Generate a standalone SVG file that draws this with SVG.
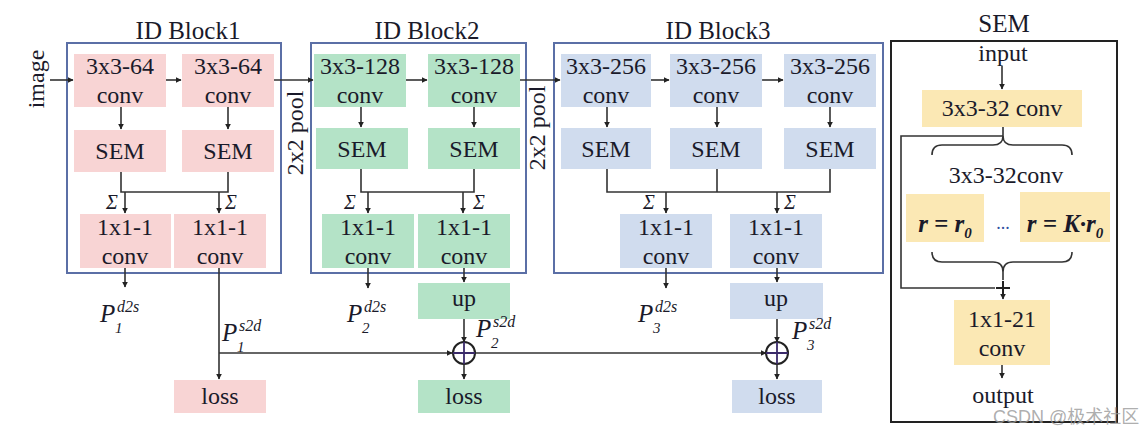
<svg xmlns="http://www.w3.org/2000/svg" width="1144" height="436" viewBox="0 0 1144 436" font-family="'Liberation Serif','Times New Roman',serif">
<defs>
<marker id="ah" viewBox="0 0 10 10" refX="9" refY="5" markerWidth="6" markerHeight="6" markerUnits="userSpaceOnUse" orient="auto"><path d="M0,0 L10,5 L0,10 z" fill="#222"/></marker>
<style>
text{font-family:"Liberation Serif","Times New Roman",serif;fill:#1a1a2a;}
.t{font-size:24px;text-anchor:middle;}
.h{font-size:25px;text-anchor:middle;}
.pk{fill:#f8d4d4;}
.gr{fill:#b4e3c7;}
.bl{fill:#d0dcee;}
.ye{fill:#fbe8b4;}
.blk{fill:none;stroke:#5b6fa6;stroke-width:2;}
.ln{fill:none;stroke:#333;stroke-width:1.6;}
.ar{fill:none;stroke:#333;stroke-width:1.6;marker-end:url(#ah);}
.P{font-size:25px;font-style:italic;}
.sup{font-size:16px;font-style:italic;}
.sub{font-size:15px;font-style:italic;}
</style>
</defs>
<rect width="1144" height="436" fill="#fff"/>

<!-- titles -->
<text class="h" x="188" y="39">ID Block1</text>
<text class="h" x="427" y="39">ID Block2</text>
<text class="h" x="718" y="39">ID Block3</text>
<text class="h" x="1004" y="32">SEM</text>
<text class="t" transform="translate(44,79) rotate(-90)">image</text>
<text class="t" transform="translate(303,133) rotate(-90)">2x2 pool</text>
<text class="t" transform="translate(545,128) rotate(-90)">2x2 pool</text>

<!-- block frames -->
<rect class="blk" x="67" y="43" width="214" height="230"/>
<rect class="blk" x="311" y="43" width="215" height="230"/>
<rect class="blk" x="554" y="43" width="329" height="230"/>
<rect x="891" y="41" width="226" height="381" fill="none" stroke="#222" stroke-width="2"/>

<!-- Block1 nodes -->
<g id="b1-conv1"><rect class="pk" x="74" y="54" width="92" height="53"/><text class="t" x="120" y="74">3x3-64</text><text class="t" x="120" y="103">conv</text></g>
<g id="b1-conv2"><rect class="pk" x="182" y="54" width="92" height="53"/><text class="t" x="228" y="74">3x3-64</text><text class="t" x="228" y="103">conv</text></g>
<g id="b1-sem1"><rect class="pk" x="74" y="130" width="92" height="42"/><text class="t" x="120" y="159">SEM</text></g>
<g id="b1-sem2"><rect class="pk" x="182" y="130" width="92" height="42"/><text class="t" x="228" y="159">SEM</text></g>
<g id="b1-out1"><rect class="pk" x="80" y="214" width="91" height="54"/><text class="t" x="125" y="235">1x1-1</text><text class="t" x="125" y="264">conv</text></g>
<g id="b1-out2"><rect class="pk" x="174" y="214" width="92" height="54"/><text class="t" x="220" y="235">1x1-1</text><text class="t" x="220" y="264">conv</text></g>
<g id="b1-loss"><rect class="pk" x="174" y="380" width="92" height="33"/><text class="t" x="220" y="404">loss</text></g>

<!-- Block2 nodes -->
<g id="b2-conv1"><rect class="gr" x="314" y="54" width="92" height="53"/><text class="t" x="360" y="74">3x3-128</text><text class="t" x="360" y="103">conv</text></g>
<g id="b2-conv2"><rect class="gr" x="428" y="54" width="92" height="53"/><text class="t" x="474" y="74">3x3-128</text><text class="t" x="474" y="103">conv</text></g>
<g id="b2-sem1"><rect class="gr" x="316" y="128" width="92" height="41"/><text class="t" x="362" y="157">SEM</text></g>
<g id="b2-sem2"><rect class="gr" x="428" y="128" width="92" height="41"/><text class="t" x="474" y="157">SEM</text></g>
<g id="b2-out1"><rect class="gr" x="322" y="214" width="92" height="54"/><text class="t" x="368" y="235">1x1-1</text><text class="t" x="368" y="264">conv</text></g>
<g id="b2-out2"><rect class="gr" x="418" y="214" width="92" height="54"/><text class="t" x="464" y="235">1x1-1</text><text class="t" x="464" y="264">conv</text></g>
<g id="b2-up"><rect class="gr" x="418" y="283" width="92" height="36"/><text class="t" x="464" y="306">up</text></g>
<g id="b2-loss"><rect class="gr" x="418" y="380" width="92" height="33"/><text class="t" x="464" y="404">loss</text></g>

<!-- Block3 nodes -->
<g id="b3-conv1"><rect class="bl" x="561" y="54" width="90" height="53"/><text class="t" x="606" y="74">3x3-256</text><text class="t" x="606" y="103">conv</text></g>
<g id="b3-conv2"><rect class="bl" x="670" y="54" width="92" height="53"/><text class="t" x="716" y="74">3x3-256</text><text class="t" x="716" y="103">conv</text></g>
<g id="b3-conv3"><rect class="bl" x="784" y="54" width="92" height="53"/><text class="t" x="830" y="74">3x3-256</text><text class="t" x="830" y="103">conv</text></g>
<g id="b3-sem1"><rect class="bl" x="561" y="128" width="90" height="41"/><text class="t" x="606" y="157">SEM</text></g>
<g id="b3-sem2"><rect class="bl" x="670" y="128" width="92" height="41"/><text class="t" x="716" y="157">SEM</text></g>
<g id="b3-sem3"><rect class="bl" x="784" y="128" width="92" height="41"/><text class="t" x="830" y="157">SEM</text></g>
<g id="b3-out1"><rect class="bl" x="620" y="214" width="92" height="54"/><text class="t" x="666" y="235">1x1-1</text><text class="t" x="666" y="264">conv</text></g>
<g id="b3-out2"><rect class="bl" x="730" y="214" width="92" height="54"/><text class="t" x="776" y="235">1x1-1</text><text class="t" x="776" y="264">conv</text></g>
<g id="b3-up"><rect class="bl" x="730" y="283" width="93" height="36"/><text class="t" x="776" y="306">up</text></g>
<g id="b3-loss"><rect class="bl" x="732" y="380" width="90" height="33"/><text class="t" x="777" y="404">loss</text></g>

<!-- SEM panel nodes -->
<g id="sem-input"><text class="t" x="1003" y="61">input</text></g>
<g id="sem-conv"><rect class="ye" x="922" y="90" width="160" height="37"/><text class="t" x="1002" y="116">3x3-32 conv</text></g>
<g id="sem-label"><text class="t" x="1006" y="183">3x3-32conv</text></g>
<g id="sem-r0"><rect class="ye" x="906" y="194" width="78" height="48"/><text x="945" y="232" style="font-size:25px;font-style:italic;font-weight:bold;text-anchor:middle">r = r<tspan style="font-size:15px" dy="6">0</tspan></text></g>
<text x="1003" y="229" style="font-size:18px;fill:#3050a0;text-anchor:middle">...</text>
<g id="sem-rk"><rect class="ye" x="1020" y="192" width="90" height="50"/><text x="1065" y="232" style="font-size:25px;font-style:italic;font-weight:bold;text-anchor:middle">r = K·r<tspan style="font-size:15px" dy="6">0</tspan></text></g>
<g id="sem-out"><rect class="ye" x="954" y="300" width="96" height="65"/><text class="t" x="1002" y="327">1x1-21</text><text class="t" x="1002" y="356">conv</text></g>
<g id="sem-output"><text class="t" x="1003" y="403">output</text></g>

<!-- labels -->
<g id="lbl-p1d"><text class="P" x="100" y="322">P<tspan class="sup" x="117" dy="-10">d2s</tspan><tspan class="sub" x="115" dy="21">1</tspan></text></g>
<g id="lbl-p2d"><text class="P" x="347" y="322">P<tspan class="sup" x="364" dy="-10">d2s</tspan><tspan class="sub" x="362" dy="21">2</tspan></text></g>
<g id="lbl-p3d"><text class="P" x="638" y="322">P<tspan class="sup" x="655" dy="-10">d2s</tspan><tspan class="sub" x="653" dy="21">3</tspan></text></g>
<g id="lbl-p1s"><text class="P" x="222" y="341">P<tspan class="sup" x="239" dy="-10">s2d</tspan><tspan class="sub" x="237" dy="21">1</tspan></text></g>
<g id="lbl-p2s"><text class="P" x="476" y="337">P<tspan class="sup" x="493" dy="-10">s2d</tspan><tspan class="sub" x="491" dy="21">2</tspan></text></g>
<g id="lbl-p3s"><text class="P" x="792" y="339">P<tspan class="sup" x="809" dy="-10">s2d</tspan><tspan class="sub" x="807" dy="21">3</tspan></text></g>
<g id="sigmas" style="font-size:20px;font-style:italic">
<text x="106" y="209">Σ</text><text x="225" y="209">Σ</text>
<text x="344" y="209">Σ</text><text x="473" y="209">Σ</text>
<text x="643" y="209">Σ</text><text x="784" y="209">Σ</text>
</g>

<!-- connectors -->
<g id="connectors">
<path class="ar" d="M50,80 H73"/>
<path class="ar" d="M166,80 H181"/>
<path class="ar" d="M274,80 H313"/>
<path class="ar" d="M406,80 H427"/>
<path class="ar" d="M520,80 H560"/>
<path class="ar" d="M651,80 H669"/>
<path class="ar" d="M762,80 H783"/>
<path class="ar" d="M121,107 V129"/>
<path class="ar" d="M228,107 V129"/>
<path class="ar" d="M361,107 V127"/>
<path class="ar" d="M474,107 V127"/>
<path class="ar" d="M607,107 V127"/>
<path class="ar" d="M717,107 V127"/>
<path class="ar" d="M830,107 V127"/>
<path class="ln" d="M121,172 V192 H228 V172"/>
<path class="ar" d="M125,192 V213"/>
<path class="ar" d="M219,192 V213"/>
<path class="ln" d="M361,169 V192 H474 V169"/>
<path class="ar" d="M368,192 V213"/>
<path class="ar" d="M463,192 V213"/>
<path class="ln" d="M607,169 V192 H830 V169"/>
<path class="ln" d="M717,169 V192"/>
<path class="ar" d="M666,192 V213"/>
<path class="ar" d="M777,192 V213"/>
<path class="ar" d="M125,268 V287"/>
<path class="ar" d="M219,268 V379"/>
<path class="ar" d="M219,353 H452"/>
<path class="ar" d="M368,268 V288"/>
<path class="ar" d="M464,268 V282"/>
<path class="ar" d="M464,319 V342"/>
<path class="ar" d="M464,365 V379"/>
<path class="ar" d="M475,353 H766"/>
<path class="ar" d="M666,268 V288"/>
<path class="ar" d="M777,268 V282"/>
<path class="ar" d="M777,319 V342"/>
<path class="ar" d="M777,365 V379"/>
<path class="ar" d="M1002,66 V89"/>
<path class="ln" d="M1003,127 V136 H901 V288 H995"/>
<path class="ln" d="M932,155 Q932,145 942,145 L993,145 Q1003,145 1003,136 Q1003,145 1013,145 L1062,145 Q1072,145 1072,155"/>
<path class="ln" d="M932,252 Q932,262 942,262 L993,262 Q1003,262 1003,272 Q1003,262 1013,262 L1062,262 Q1072,262 1072,252"/>
<path class="ln" d="M1003,272 V280"/>
<path class="ar" d="M1003,296 V299"/>
<path class="ar" d="M1002,365 V378"/>
</g>
<g id="sum2"><circle cx="464" cy="353" r="11" fill="#fff" stroke="#222" stroke-width="2"/><path d="M453,353 H475 M464,342 V364" stroke="#3a2a6a" stroke-width="1.8"/></g>
<g id="sum3"><circle cx="777" cy="353" r="11" fill="#fff" stroke="#222" stroke-width="2"/><path d="M766,353 H788 M777,342 V364" stroke="#3a2a6a" stroke-width="1.8"/></g>
<g id="semplus"><path d="M996,288 H1010 M1003,281 V295" stroke="#222" stroke-width="2"/></g>

<text x="993" y="423" style="font-family:'Liberation Sans','Noto Sans CJK SC',sans-serif;font-size:18px;fill:#999;fill-opacity:0.8">CSDN @极术社区</text>
</svg>
